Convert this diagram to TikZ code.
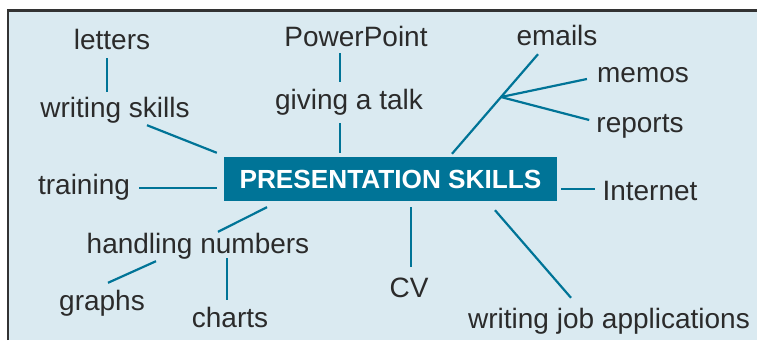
\documentclass[tikz,border=0pt]{standalone}
\usepackage{fontspec}
\setmainfont{Liberation Sans}
\definecolor{mapbg}{HTML}{DAEAF1}
\definecolor{mapteal}{HTML}{007497}
\definecolor{maptext}{HTML}{2B2B2B}

\begin{document}
\begin{tikzpicture}[x=1pt,y=-1pt,
	word/.style={inner sep=0pt, anchor=base, text=maptext, text height=20pt, text depth=6pt,
		font=\fontsize{28}{34}\selectfont},
	title/.style={fill=mapteal, text=white, inner sep=0pt, minimum width=333pt, minimum height=44pt,
		font=\fontsize{26.2}{30}\selectfont\bfseries},
	link/.style={draw=mapteal, line width=2.2pt}]
\useasboundingbox (0,0) rectangle (757,340);
\fill[mapbg] (8,10.5) rectangle (757,340);
\draw[line width=2.5pt, draw=black!80] (8,340) -- (8,10.5) -- (757,10.5);

\node[title] (skills) at (390.5,179) {PRESENTATION SKILLS};

\node[word] (letters) at (112,49) {letters};
\node[word] (writing) at (115,117) {writing skills};
\node[word] (ppoint) at (356,46) {PowerPoint};
\node[word] (talk) at (349,109) {giving a talk};
\node[word] (emails) at (557,45) {emails};
\node[word] (memos) at (643,82) {memos};
\node[word] (reports) at (640,132) {reports};
\node[word] (training) at (84,194) {training};
\node[word] (internet) at (650,200) {Internet};
\node[word] (numbers) at (198,253) {handling numbers};
\node[word] (graphs) at (102,310) {graphs};
\node[word] (charts) at (230,327) {charts};
\node[word] (cv) at (409,297) {CV};
\node[word] (jobs) at (609,328) {writing job applications};

% upper branches
\draw[link] ([shift={(-5,3)}]letters.south) -- ([shift={(-8,-5)}]writing.north);
\draw[link] ([shift={(32,2)}]writing.south) -- ([shift={(-7,-4)}]skills.north west);
\draw[link] ([shift={(-16,1)}]ppoint.south) -- ([shift={(-9,-7)}]talk.north);
\draw[link] ([shift={(-9,8)}]talk.south) -- ([shift={(-50.5,-4)}]skills.north);
\draw[link] ([shift={(61.5,-3)}]skills.north) -- coordinate[pos=.57] (fork) ([shift={(-19,3)}]emails.south);
\draw[link] (fork) -- ([shift={(-10,4)}]memos.west);
\draw[link] (fork) -- ([shift={(-7,-5)}]reports.west);

% sides and lower branches
\draw[link] ([shift={(9,1)}]training.east) -- ([shift={(-7,9)}]skills.west);
\draw[link] ([shift={(4,10)}]skills.east) -- ([shift={(-7,-4)}]internet.west);
\draw[link] ([shift={(-123.5,6)}]skills.south) -- ([shift={(20,-1)}]numbers.north);
\draw[link] ([shift={(-42,2)}]numbers.south) -- ([shift={(6,-7)}]graphs.north);
\draw[link] ([shift={(29,-1)}]numbers.south) -- ([shift={(-3,-7)}]charts.north);
\draw[link] ([shift={(20.5,6)}]skills.south) -- ([shift={(2,-10)}]cv.north);
\draw[link] ([shift={(104.5,9)}]skills.south) -- ([shift={(-38,-10)}]jobs.north);
\end{tikzpicture}
\end{document}
